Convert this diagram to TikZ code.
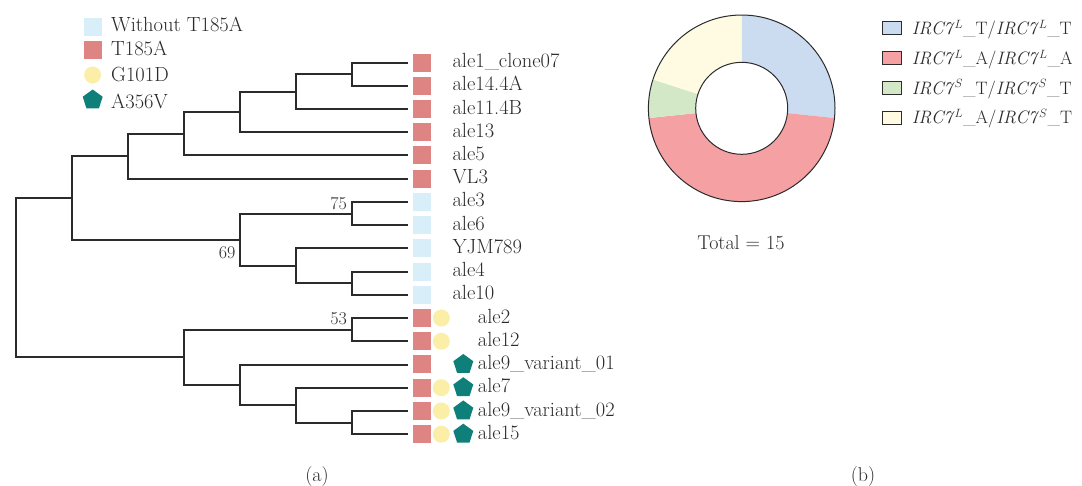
\documentclass[tikz,border=0pt]{standalone}
\usetikzlibrary{shapes.geometric}
\definecolor{treeline}{HTML}{2B2B2B}
\definecolor{txt}{HTML}{2A2A2A}
\definecolor{sqblue}{HTML}{D8EEF8}
\definecolor{sqred}{HTML}{DE8482}
\definecolor{dotyellow}{HTML}{FBEEA7}
\definecolor{pentteal}{HTML}{0F7F79}
\definecolor{pieblue}{HTML}{CBDCF0}
\definecolor{piered}{HTML}{F5A0A3}
\definecolor{piegreen}{HTML}{D3E8C6}
\definecolor{pieyellow}{HTML}{FEFBE2}
\begin{document}
\begin{tikzpicture}[x=1pt,y=-1pt,
  branch/.style={draw=treeline,line width=2pt,line join=miter},
  sqB/.style={rectangle,fill=sqblue,minimum size=18pt,inner sep=0},
  sqR/.style={rectangle,fill=sqred,minimum size=18pt,inner sep=0},
  dotY/.style={circle,fill=dotyellow,minimum size=17pt,inner sep=0},
  pentT/.style={regular polygon,regular polygon sides=5,fill=pentteal,minimum size=21pt,inner sep=0},
  lbl/.style={anchor=base west,inner sep=0,font=\fontsize{20.5}{24}\selectfont,text=txt},
  plbl/.style={anchor=base west,inner sep=0,font=\fontsize{18}{22}\selectfont,text=txt},
  bslbl/.style={inner sep=0,font=\fontsize{18}{22}\selectfont,text=txt},
  ring/.style={draw=treeline,line width=1pt},
  pbox/.style={rectangle,draw=treeline,line width=0.9pt,minimum width=19pt,minimum height=13pt,inner sep=0},
  captext/.style={inner sep=0,font=\fontsize{20}{24}\selectfont,text=txt}
]
\useasboundingbox (0,0) rectangle (1082,485);

% ---------- legend (a) ----------
\node[sqB] (lgB) at (92.8,27) {};
\node[lbl] (lgBt) at (111,31.7) {Without T185A};
\node[sqR] (lgR) at (92.8,49.5) {};
\node[lbl] (lgRt) at (111,55.5) {T185A};
\node[dotY] (lgY) at (92.6,75) {};
\node[lbl] (lgYt) at (111,81.7) {G101D};
\node[pentT] (lgP) at (92.7,100) {};
\node[lbl] (lgPt) at (111,108) {A356V};

% ---------- leaves ----------
\foreach \i/\yy in {1/62.5,2/85.7,3/109,4/132.2,5/155.4,6/178.7,7/201.9,8/225.1,9/248.3,10/271.6,11/294.8,12/318,13/341.3,14/364.5,15/387.7,16/411,17/434.2}{
  \coordinate (l\i) at (408.3,\yy);
}

% internal nodes
\coordinate (n1) at (351.7,74.1);
\coordinate (n2) at (295.7,91.55);
\coordinate (n3) at (239.8,111.9);
\coordinate (n4) at (183.7,133.65);
\coordinate (n5) at (128.3,156.2);
\coordinate (n6) at (351.7,213.5);
\coordinate (n7) at (351.7,283.2);
\coordinate (n8) at (295.7,265.75);
\coordinate (n9) at (239.8,239.6);
\coordinate (n10) at (71.8,197.9);
\coordinate (n11) at (351.7,329.65);
\coordinate (n12) at (351.7,422.6);
\coordinate (n13) at (295.7,405.15);
\coordinate (n14) at (239.8,384.8);
\coordinate (n15) at (183.7,357.2);
\coordinate (root) at (15.7,277.55);

% branches
\draw[branch] (n1) |- (l1);  \draw[branch] (n1) |- (l2);
\draw[branch] (n2) |- (n1);  \draw[branch] (n2) |- (l3);
\draw[branch] (n3) |- (n2);  \draw[branch] (n3) |- (l4);
\draw[branch] (n4) |- (n3);  \draw[branch] (n4) |- (l5);
\draw[branch] (n5) |- (n4);  \draw[branch] (n5) |- (l6);
\draw[branch] (n6) |- (l7);  \draw[branch] (n6) |- (l8);
\draw[branch] (n7) |- (l10); \draw[branch] (n7) |- (l11);
\draw[branch] (n8) |- (l9);  \draw[branch] (n8) |- (n7);
\draw[branch] (n9) |- (n6);  \draw[branch] (n9) |- (n8);
\draw[branch] (n10) |- (n5); \draw[branch] (n10) |- (n9);
\draw[branch] (n11) |- (l12); \draw[branch] (n11) |- (l13);
\draw[branch] (n12) |- (l16); \draw[branch] (n12) |- (l17);
\draw[branch] (n13) |- (l15); \draw[branch] (n13) |- (n12);
\draw[branch] (n14) |- (l14); \draw[branch] (n14) |- (n13);
\draw[branch] (n15) |- (n11); \draw[branch] (n15) |- (n14);
\draw[branch] (root) |- (n10); \draw[branch] (root) |- (n15);

% bootstrap values
\node[bslbl,anchor=base east] (bs75) at (347,209.5) {75};
\node[bslbl,anchor=north east] (bs69) at (235.5,246) {69};
\node[bslbl,anchor=base east] (bs53) at (347,324) {53};

% markers
\foreach \i in {1,...,6}{ \node[sqR] (sq\i) at (422,{62.5+(\i-1)*23.23}) {}; }
\foreach \i in {7,...,11}{ \node[sqB] (sq\i) at (422,{62.5+(\i-1)*23.23}) {}; }
\foreach \i in {12,...,17}{ \node[sqR] (sq\i) at (422,{62.5+(\i-1)*23.23}) {}; }
\foreach \i in {12,13,15,16,17}{ \node[dotY] (dot\i) at (441.3,{62.5+(\i-1)*23.23}) {}; }
\foreach \i in {14,15,16,17}{ \node[pentT] (pen\i) at (463.3,{62.5+(\i-1)*23.23}) {}; }

% leaf labels
\node[lbl] (t1) at (452.3,67.5) {ale1\_clone07};
\node[lbl] (t2) at (452.3,90.7) {ale14.4A};
\node[lbl] (t3) at (452.3,114) {ale11.4B};
\node[lbl] (t4) at (452.3,137.2) {ale13};
\node[lbl] (t5) at (452.3,160.4) {ale5};
\node[lbl] (t6) at (452.3,183.7) {VL3};
\node[lbl] (t7) at (452.3,206.9) {ale3};
\node[lbl] (t8) at (452.3,230.1) {ale6};
\node[lbl] (t9) at (452.3,253.3) {YJM789};
\node[lbl] (t10) at (452.3,276.6) {ale4};
\node[lbl] (t11) at (452.3,299.8) {ale10};
\node[lbl] (t12) at (477.7,323) {ale2};
\node[lbl] (t13) at (477.7,346.3) {ale12};
\node[lbl] (t14) at (477.7,369.5) {ale9\_variant\_01};
\node[lbl] (t15) at (477.7,392.7) {ale7};
\node[lbl] (t16) at (477.7,416) {ale9\_variant\_02};
\node[lbl] (t17) at (477.7,439.2) {ale15};

% ---------- donut (b) ----------
\coordinate (pc) at (741.7,108.3);
\begin{scope}[shift={(pc)},x=1pt,y=1pt]
  \fill[pieblue] (90:93.3) arc[start angle=90,end angle=-6,radius=93.3] -- (-6:46) arc[start angle=-6,end angle=90,radius=46] -- cycle;
  \fill[piered] (-6:93.3) arc[start angle=-6,end angle=-174,radius=93.3] -- (-174:46) arc[start angle=-174,end angle=-6,radius=46] -- cycle;
  \fill[piegreen] (-174:93.3) arc[start angle=-174,end angle=-198,radius=93.3] -- (-198:46) arc[start angle=-198,end angle=-174,radius=46] -- cycle;
  \fill[pieyellow] (-198:93.3) arc[start angle=-198,end angle=-270,radius=93.3] -- (-270:46) arc[start angle=-270,end angle=-198,radius=46] -- cycle;
  \draw[ring] (0,0) circle[radius=93.3];
  \draw[ring] (0,0) circle[radius=46];
\end{scope}
\node[captext] (total) at (741,243) {Total = 15};

% pie legend
\node[pbox,fill=pieblue] (pb1) at (891.7,28.3) {};
\node[plbl] (pt1) at (911.7,34.5) {\textit{IRC7}$^{L}$\_T/\textit{IRC7}$^{L}$\_T};
\node[pbox,fill=piered] (pb2) at (891.7,58.1) {};
\node[plbl] (pt2) at (911.7,64.3) {\textit{IRC7}$^{L}$\_A/\textit{IRC7}$^{L}$\_A};
\node[pbox,fill=piegreen] (pb3) at (891.7,87.9) {};
\node[plbl] (pt3) at (911.7,94.1) {\textit{IRC7}$^{S}$\_T/\textit{IRC7}$^{S}$\_T};
\node[pbox,fill=pieyellow] (pb4) at (891.7,117.7) {};
\node[plbl] (pt4) at (911.7,123.9) {\textit{IRC7}$^{L}$\_A/\textit{IRC7}$^{S}$\_T};

% captions
\node[captext] (capa) at (317,476.5) {(a)};
\node[captext] (capb) at (863,476.5) {(b)};
\end{tikzpicture}
\end{document}
